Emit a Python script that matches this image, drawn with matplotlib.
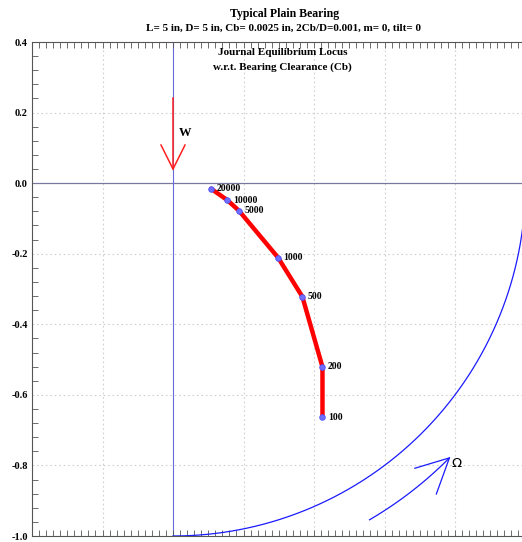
import numpy as np
import matplotlib.pyplot as plt

# journal locus, labelled by speed
speeds = ['20000', '10000', '5000', '1000', '500', '200', '100']
locus_x = [0.108, 0.154, 0.187, 0.298, 0.367, 0.424, 0.424]
locus_y = [-0.016, -0.048, -0.078, -0.211, -0.322, -0.521, -0.663]

yticks = [-1.0, -0.8, -0.6, -0.4, -0.2, 0.0, 0.2, 0.4]
ylabels = ['-1.0', '-0.8', '-0.6', '-0.4', '-0.2', '0.0', '0.2', '0.4']

title1 = 'Typical Plain Bearing'
title2 = 'L= 5 in, D= 5 in, Cb= 0.0025 in, 2Cb/D=0.001, m= 0, tilt= 0'
inner1 = 'Journal Equilibrium Locus'
inner2 = 'w.r.t. Bearing Clearance (Cb)'

serif = 'Liberation Serif'

fig = plt.figure(figsize=(5.22, 5.42), dpi=100)
ax = fig.add_axes([32/522, 6/542, 490/522, 494/542])
ax.set_xlim(-0.4, 0.99)
ax.set_ylim(-1.0, 0.4)

# grid
for g in [-0.2, 0.2, 0.4, 0.6, 0.8]:
    ax.axvline(g, color='#d0d0d0', lw=0.8, ls=(0, (1.5, 2.5)), zorder=0)
for g in [0.2, -0.2, -0.4, -0.6, -0.8]:
    ax.axhline(g, color='#d0d0d0', lw=0.8, ls=(0, (1.5, 2.5)), zorder=0)
ax.axhline(0, color='#7878a0', lw=0.9, zorder=1)
ax.axvline(0, color='#6a6ae0', lw=0.8, zorder=1)

# clearance circle
t = np.linspace(-np.pi/2, 0, 200)
ax.plot(np.cos(t), np.sin(t), color='#1a1aff', lw=0.9)

# rotation arrow
r = 1.105
t2 = np.radians(np.linspace(-59.7, -44.8, 50))
ax.plot(r*np.cos(t2), r*np.sin(t2), color='#1a1aff', lw=0.9)
tip = (r*np.cos(t2[-1]), r*np.sin(t2[-1]))
ax.plot([0.686, tip[0], 0.747], [-0.808, tip[1], -0.881], color='#1a1aff', lw=0.9)
ax.text(0.790, -0.794, '\u03a9', fontsize=9.5, family='DejaVu Sans', va='center', ha='left')

# load arrow
ax.plot([0, 0], [0.241, 0.040], color='#ff2020', lw=1.1)
ax.plot([-0.034, 0, 0.034], [0.108, 0.040, 0.108], color='#ff2020', lw=1.1)
ax.text(0.016, 0.143, 'W', fontsize=9, family=serif, weight='bold', va='center')

# locus
ax.plot(locus_x, locus_y, color='red', lw=3.2, solid_capstyle='round', zorder=3)
ax.plot(locus_x, locus_y, ls='none', marker='o', ms=4, mfc='#7070ff', mec='#5050ff', mew=0.6, zorder=4)
for s, x, y in zip(speeds, locus_x, locus_y):
    ax.annotate(s, (x, y), xytext=(4, 0), textcoords='offset points',
                fontsize=7, family=serif, weight='bold', va='center')

ax.text(0.31, 0.37, inner1, fontsize=8, family=serif, weight='bold', ha='center', va='center')
ax.text(0.31, 0.33, inner2, fontsize=8, family=serif, weight='bold', ha='center', va='center')

fig.text(285/522, 1 - 14/542, title1, fontsize=8.5, family=serif, weight='bold', ha='center', va='center')
fig.text(284/522, 1 - 28/542, title2, fontsize=8, family=serif, weight='bold', ha='center', va='center')

# ticks
ax.set_xticks([])
ax.set_xticks(np.arange(-0.4, 1.0, 0.02), minor=True)
ax.set_yticks(yticks)
ax.set_yticklabels(ylabels, family=serif, weight='bold', fontsize=7.5)
ax.set_yticks(np.arange(-1.0, 0.41, 0.04), minor=True)
ax.tick_params(axis='y', which='major', length=0, pad=3)
ax.tick_params(axis='y', which='minor', direction='in', length=4, color='#555555')
ax.tick_params(axis='x', which='minor', direction='in', length=4, top=True, bottom=True, color='#555555')
for sp in ax.spines.values():
    sp.set_color('#555555')
    sp.set_linewidth(0.8)
ax.spines['right'].set_visible(False)

fig.savefig('out.png', dpi=100)
